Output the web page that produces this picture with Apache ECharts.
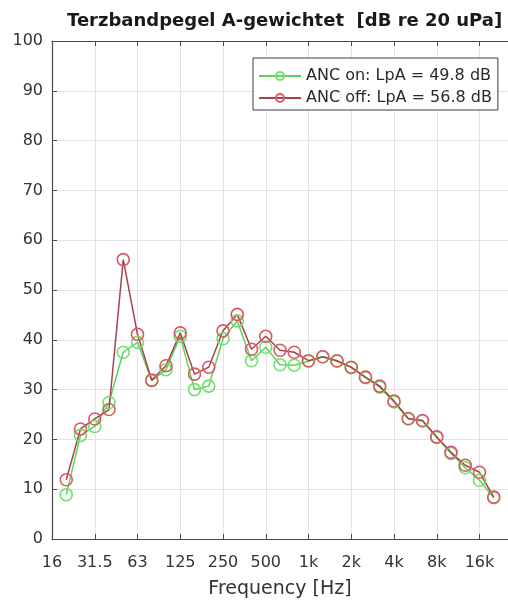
<!DOCTYPE html>
<html>
<head>
<meta charset="utf-8">
<script src="https://cdn.jsdelivr.net/npm/echarts@6/dist/echarts.min.js"></script>
<style>
  html, body { margin: 0; padding: 0; background: #ffffff; }
  #chart { width: 508px; height: 604px; }
</style>
</head>
<body>
<div id="chart"></div>
<script>
// Third-octave band centres, 16 Hz .. 25 kHz (first and last only bound the axis)
const bands = ['16', '20', '25', '31.5', '40', '50', '63', '80', '100', '125', '160', '200',
  '250', '315', '400', '500', '630', '800', '1k', '1.25k', '1.6k', '2k', '2.5k', '3.15k',
  '4k', '5k', '6.3k', '8k', '10k', '12.5k', '16k', '20k', '25k'];

// A-weighted band levels in dB re 20 uPa (null where no band was measured)
const ancOn = [null, 8.9, 20.8, 22.6, 27.4, 37.5, 39.5, 31.8, 34.0, 40.7, 30.0, 30.7,
  40.2, 43.8, 35.8, 38.5, 35.0, 34.9, 35.7, 36.6, 35.7, 34.4, 32.4, 30.5,
  27.5, 24.1, 23.7, 20.4, 17.2, 14.3, 11.8, 8.3, null];
const ancOff = [null, 11.9, 22.1, 24.1, 26.0, 56.1, 41.1, 31.9, 34.8, 41.4, 33.1, 34.5,
  41.8, 45.1, 38.1, 40.7, 37.9, 37.5, 35.8, 36.6, 35.8, 34.5, 32.5, 30.7,
  27.7, 24.2, 23.8, 20.5, 17.4, 14.8, 13.4, 8.4, null];

const seriesNames = ['ANC on: LpA = 49.8 dB', 'ANC off: LpA = 56.8 dB'];
const yTicks = { min: 0, max: 100, step: 10 };

const font = '"DejaVu Sans", Verdana, sans-serif';
const axisGrey = '#4a4a4a';
const gridGrey = '#e3e3e3';

const chart = echarts.init(document.getElementById('chart'), null, { renderer: 'canvas' });

function lineSeries(name, data, lineColor, markColor) {
  return {
    name: name,
    type: 'line',
    data: data,
    symbol: 'circle',
    symbolSize: 12,
    showAllSymbol: true,
    connectNulls: false,
    lineStyle: { color: lineColor, width: 1.5 },
    itemStyle: { color: 'rgba(255,255,255,0)', borderColor: markColor, borderWidth: 1.6 },
    emphasis: { disabled: true },
    animation: false
  };
}

chart.setOption({
  backgroundColor: '#ffffff',
  animation: false,
  title: {
    text: 'Terzbandpegel A-gewichtet  [dB re 20 uPa]',
    left: 62,
    top: 7,
    textStyle: { fontFamily: font, fontSize: 18, fontWeight: 'bold', color: '#1a1a1a' }
  },
  legend: {
    orient: 'vertical',
    left: 253,
    top: 58,
    padding: [10, 6, 4, 5],
    itemWidth: 42,
    itemHeight: 10,
    itemGap: 6,
    backgroundColor: '#ffffff',
    borderColor: '#3a3a3a',
    borderWidth: 1,
    textStyle: { fontFamily: font, fontSize: 16, lineHeight: 16, color: '#2a2a2a' },
    data: seriesNames
  },
  grid: { left: 52, top: 41, width: 464, height: 500, containLabel: false },
  xAxis: [{
    type: 'category',
    data: bands,
    boundaryGap: false,
    name: 'Frequency [Hz]',
    nameLocation: 'middle',
    nameGap: 41,
    nameTextStyle: { fontFamily: font, fontSize: 19, color: '#333333' },
    axisLine: { show: true, lineStyle: { color: axisGrey, width: 1.2 } },
    axisTick: { show: true, inside: true, length: 5, interval: 2, lineStyle: { color: axisGrey } },
    axisLabel: { interval: 2, margin: 16, fontFamily: font, fontSize: 16, color: '#333333' },
    splitLine: { show: true, interval: 2, lineStyle: { color: gridGrey, width: 1 } }
  }, {
    type: 'category',
    data: bands,
    boundaryGap: false,
    position: 'top',
    axisLine: { show: true, lineStyle: { color: axisGrey, width: 1.2 } },
    axisTick: { show: true, inside: true, length: 5, interval: 2, lineStyle: { color: axisGrey } },
    axisLabel: { show: false },
    splitLine: { show: false }
  }],
  yAxis: {
    type: 'value',
    min: yTicks.min,
    max: yTicks.max,
    interval: yTicks.step,
    axisLine: { show: true, lineStyle: { color: axisGrey, width: 1.2 } },
    axisTick: { show: true, inside: true, length: 5, lineStyle: { color: axisGrey } },
    axisLabel: { margin: 9, fontFamily: font, fontSize: 16, color: '#333333' },
    splitLine: { show: true, lineStyle: { color: gridGrey, width: 1 } }
  },
  series: [
    lineSeries(seriesNames[0], ancOn, '#5ad45a', '#70de70'),
    lineSeries(seriesNames[1], ancOff, '#a8404c', '#d85a62')
  ]
});
</script>
</body>
</html>
